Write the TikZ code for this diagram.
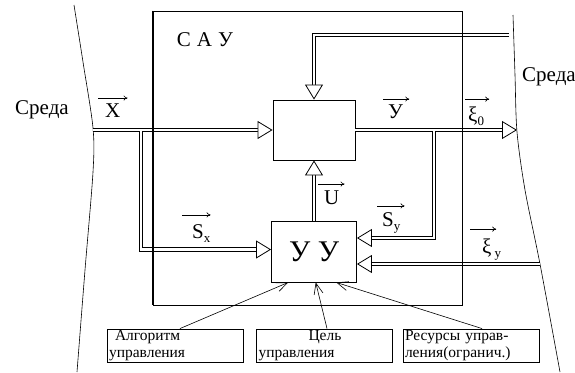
\documentclass[tikz,border=0pt]{standalone}
\usepackage{fontspec}
\setmainfont{Liberation Serif}
\usetikzlibrary{arrows.meta,calc}

\newcommand\sub[1]{\raisebox{-4pt}{\fontsize{13}{13}\selectfont #1}}

\tikzset{
  blk/.style={draw, line width=0.9pt, inner sep=0pt},
  dbl/.style={double, double distance=2.8pt, line width=0.8pt},
  tiphead/.style={draw=white, line width=0.8pt,
    -{Triangle[color=black, fill=white, length=15pt, width=18pt]}},
  thinarr/.style={line width=0.6pt, -{Straight Barb[length=11pt, width=9pt]}},
  vecarr/.style={line width=0.6pt, -{To[length=4pt, width=5pt]}},
  lbl/.style={inner sep=0pt, font=\fontsize{21}{21}\selectfont},
  infobox/.style={draw, line width=0.9pt, minimum width=136pt, minimum height=33pt,
    inner sep=1pt, text width=132pt, align=left, font=\fontsize{15.5}{17.2}\selectfont},
}

\begin{document}
\begin{tikzpicture}[x=1pt, y=-1pt]
    \useasboundingbox (0,0) rectangle (575,372);

    % environment borders
    \draw[line width=0.6pt] plot[smooth, tension=0.5] coordinates
        {(74,5) (83,62) (93,128) (93,172) (85,270) (77,372)};
    \draw[line width=0.6pt] plot[smooth, tension=0.5] coordinates
        {(513,15) (515,75) (517,132) (525,190) (540,264) (560,372)};
    \node[lbl] (envl) at (42,110) {Среда};
    \node[lbl] (envr) at (549,77) {Среда};

    % blocks
    \node[blk, minimum width=82pt, minimum height=60pt] (obj) at (314,130) {};
    \node[blk, minimum width=85pt, minimum height=61pt,
          font=\fontsize{30}{30}\selectfont] (uu) at (314,251.5) {У У};

    % free ends on the borders
    \coordinate (xin) at (93,130);
    \coordinate (xsplit) at (141,130);
    \coordinate (yout) at (517,130);
    \coordinate (ysplit) at (434,130);
    \coordinate (fbin) at (509,35);
    \coordinate (xiin) at (540,264);

    % input X and its branch S_x
    \draw[dbl] (xin) -- ($(obj.west)+(-9,0)$)
        (xsplit) |- ($(uu.west)+(-9,-2)$);
    \draw[tiphead] ($(obj.west)+(-20,0)$) -- (obj.west);
    \draw[tiphead] ($(uu.west)+(-20,-2)$) -- ($(uu.west)+(0,-2)$);

    % output Y and its branch S_y
    \draw[dbl] (obj.east) -- ($(yout)+(-9,0)$)
        (ysplit) |- ($(uu.east)+(9,-13.5)$);
    \draw[tiphead] ($(yout)+(-20,0)$) -- (yout);
    \draw[tiphead] ($(uu.east)+(20,-13.5)$) -- ($(uu.east)+(0,-13.5)$);

    % disturbance from the environment
    \draw[dbl] (fbin) -| ($(obj.north)+(0,-9)$);
    \draw[tiphead] ($(obj.north)+(0,-20)$) -- (obj.north);

    % control U
    \draw[dbl] (obj.south |- uu.north) -- ($(obj.south)+(0,9)$);
    \draw[tiphead] ($(obj.south)+(0,20)$) -- (obj.south);

    % xi_y
    \draw[dbl] (xiin) -- ($(xiin -| uu.east)+(9,0)$);
    \draw[tiphead] ($(xiin -| uu.east)+(20,0)$) -- (xiin -| uu.east);

    % system frame
    \node[draw, line width=0.9pt, minimum width=309pt, minimum height=294pt,
          inner sep=0pt] (sau) at (307.5,158) {};
    \draw[line width=1.8pt] (sau.north west) -- (sau.south west);
    \node[lbl] (saulbl) at (205,40) {С\hspace{6pt}А\hspace{6pt}У};

    % vector labels
    \node[lbl, anchor=base west] (lx) at (105,117) {X};
    \draw[vecarr] ([xshift=-7pt,yshift=5pt]lx.north west) -- ([xshift=7pt,yshift=5pt]lx.north east);
    \node[lbl, anchor=base west] (ly) at (388,118) {У};
    \draw[vecarr] ([xshift=-5pt,yshift=5pt]ly.north west) -- ([xshift=6pt,yshift=5pt]ly.north east);
    \node[lbl, anchor=base west] (lxi0) at (468,121) {ξ\sub{0}};
    \draw[vecarr] ([xshift=-3pt,yshift=7pt]lxi0.north west) -- ([xshift=5pt,yshift=7pt]lxi0.north east);
    \node[lbl, anchor=base west] (lu) at (324,204) {U};
    \draw[vecarr] ([xshift=-6pt,yshift=6pt]lu.north west) -- ([xshift=5pt,yshift=6pt]lu.north east);
    \node[lbl, anchor=base west] (lsx) at (192,238) {S\sub{x}};
    \draw[vecarr] ([xshift=-10pt,yshift=9pt]lsx.north west) -- ([xshift=0pt,yshift=9pt]lsx.north east);
    \node[lbl, anchor=base west] (lsy) at (382,226) {S\sub{y}};
    \draw[vecarr] ([xshift=-5pt,yshift=6pt]lsy.north west) -- ([xshift=4pt,yshift=6pt]lsy.north east);
    \node[lbl, anchor=base west] (lxiy) at (482,253) {ξ\hspace{3pt}\sub{y}};
    \draw[vecarr] ([xshift=-12pt,yshift=9pt]lxiy.north west) -- ([xshift=-5pt,yshift=9pt]lxiy.north east);

    % resources of control
    \node[infobox] (alg) at (175,345.5)
        {\hspace*{6pt}Алгоритм\\управления};
    \node[infobox] (goal) at (324.5,345.5)
        {\hspace*{50pt}Цель\\управления};
    \node[infobox] (res) at (471,345.5)
        {Ресурсы управ-\\ления(огранич.)};
    \draw[thinarr] ([xshift=5pt]alg.north) -- ($(uu.south west)!0.2!(uu.south east)$);
    \draw[thinarr] ([xshift=2.5pt]goal.north) -- ($(uu.south west)!0.52!(uu.south east)$);
    \draw[thinarr] ([xshift=11pt]res.north) -- ($(uu.south west)!0.76!(uu.south east)$);
\end{tikzpicture}
\end{document}
